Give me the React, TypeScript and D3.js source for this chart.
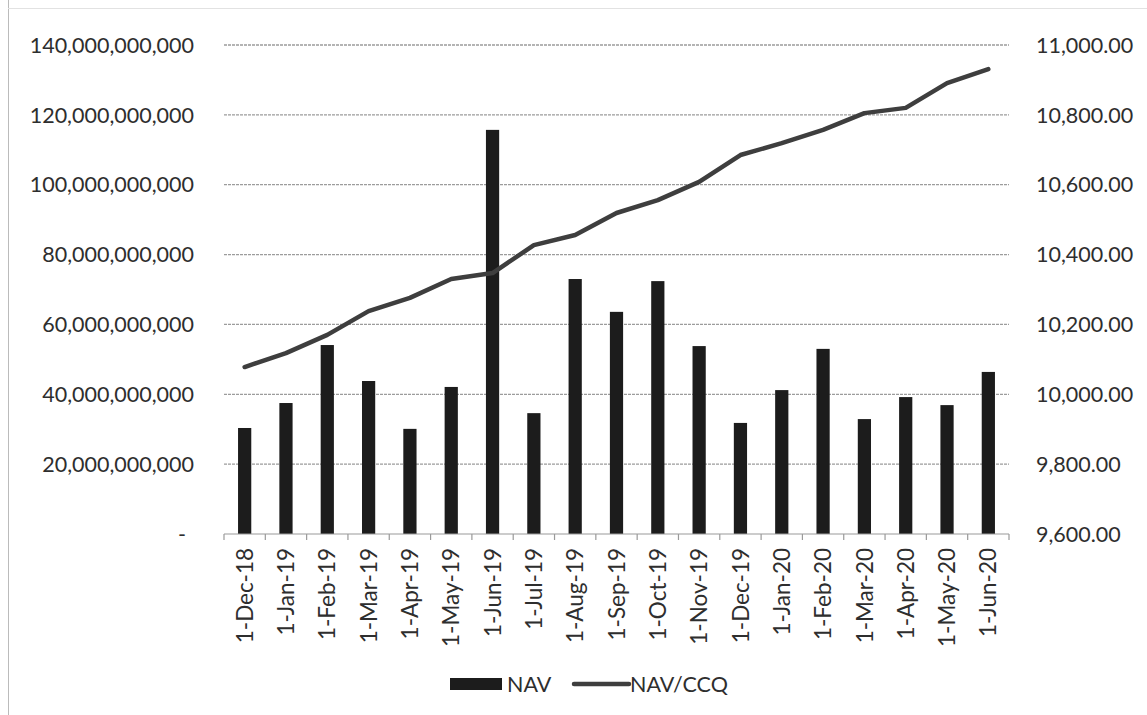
import React from "react";
import * as d3 from "d3";

const categories = [
  "1-Dec-18", "1-Jan-19", "1-Feb-19", "1-Mar-19", "1-Apr-19", "1-May-19", "1-Jun-19",
  "1-Jul-19", "1-Aug-19", "1-Sep-19", "1-Oct-19", "1-Nov-19", "1-Dec-19", "1-Jan-20",
  "1-Feb-20", "1-Mar-20", "1-Apr-20", "1-May-20", "1-Jun-20",
];

const navValues = [
  30.35e9, 37.5e9, 54.1e9, 43.8e9, 30.1e9, 42.1e9, 115.7e9,
  34.6e9, 73.0e9, 63.6e9, 72.4e9, 53.8e9, 31.8e9, 41.2e9,
  53.0e9, 32.9e9, 39.2e9, 36.9e9, 46.4e9,
];

const navPerCcq = [
  10078, 10118, 10170, 10238, 10276, 10330, 10347,
  10427, 10456, 10519, 10556, 10608, 10685, 10719,
  10757, 10805, 10820, 10891, 10931,
];

const leftTicks = [0, 20e9, 40e9, 60e9, 80e9, 100e9, 120e9, 140e9];
const rightTicks = [9600, 9800, 10000, 10200, 10400, 10600, 10800, 11000];

const FONT = "Lato, 'Open Sans', sans-serif";

export default function App() {
  const W = 1147;
  const H = 715;
  const x0 = 224, x1 = 1009, yTop = 45, yBot = 534;

  const x = d3.scaleBand<string>().domain(categories).range([x0, x1]).paddingInner(0.68).paddingOuter(0.34);
  const step = (x1 - x0) / categories.length;
  const yL = d3.scaleLinear().domain([0, 140e9]).range([yBot, yTop]);
  const yR = d3.scaleLinear().domain([9600, 11000]).range([yBot, yTop]);

  const fmtL = (v: number) => (v === 0 ? "-" : d3.format(",")(v));
  const fmtR = d3.format(",.2f");

  const line = d3
    .line<number>()
    .x((_, i) => (x(categories[i]) as number) + x.bandwidth() / 2)
    .y((d) => yR(d));

  return (
    <svg
      width={W}
      height={H}
      style={{ position: "fixed", left: 0, top: 0, background: "#fff" }}
      fontFamily={FONT}
    >
      <rect x={0} y={0} width={W} height={H} fill="#fff" />
      <line x1={8.5} y1={0} x2={8.5} y2={H} stroke="#bbb" strokeWidth={1} />
      <line x1={8} y1={8.5} x2={W} y2={8.5} stroke="#e2e2e2" strokeWidth={1} />

      {leftTicks.slice(1).map((t) => (
        <line
          key={"g" + t}
          x1={x0}
          x2={x1}
          y1={yL(t)}
          y2={yL(t)}
          stroke="#9c9c9c"
          strokeWidth={1.3}
          strokeDasharray="3 1"
        />
      ))}

      {leftTicks.map((t) => (
        <text
          key={"l" + t}
          x={t === 0 ? 186 : 194}
          y={yL(t)}
          dy="0.36em"
          textAnchor="end"
          fontSize={21.5}
          fill="#2e2e2e"
        >
          {fmtL(t)}
        </text>
      ))}

      {rightTicks.map((t) => (
        <text key={"r" + t} x={1036} y={yR(t)} dy="0.36em" textAnchor="start" fontSize={21.5} fill="#2e2e2e">
          {fmtR(t)}
        </text>
      ))}

      {navValues.map((v, i) => (
        <rect
          key={"b" + i}
          x={x(categories[i]) as number}
          y={yL(v)}
          width={x.bandwidth()}
          height={yBot - yL(v)}
          fill="#1c1c1c"
        />
      ))}

      <line x1={x0} x2={x1} y1={yBot} y2={yBot} stroke="#9a9a9a" strokeWidth={1.2} />
      {d3.range(categories.length + 1).map((i) => (
        <line
          key={"t" + i}
          x1={x0 + i * step}
          x2={x0 + i * step}
          y1={yBot}
          y2={yBot + 6}
          stroke="#9a9a9a"
          strokeWidth={1.2}
        />
      ))}

      <path
        d={line(navPerCcq) || ""}
        fill="none"
        stroke="#3e3e3e"
        strokeWidth={4.5}
        strokeLinecap="round"
        strokeLinejoin="round"
      />

      {categories.map((c) => {
        const cx = (x(c) as number) + x.bandwidth() / 2;
        return (
          <text
            key={"x" + c}
            transform={`translate(${cx},${548}) rotate(-90)`}
            textAnchor="end"
            dy="0.36em"
            fontSize={22.5}
            fill="#2e2e2e"
          >
            {c}
          </text>
        );
      })}

      <rect x={450} y={678} width={52} height={12} fill="#1c1c1c" />
      <text x={507} y={684} dy="0.36em" fontSize={21.5} fill="#2e2e2e">NAV</text>
      <line x1={574} x2={629} y1={684} y2={684} stroke="#3e3e3e" strokeWidth={4.5} strokeLinecap="round" />
      <text x={630} y={684} dy="0.36em" fontSize={21.5} fill="#2e2e2e">NAV/CCQ</text>
    </svg>
  );
}
